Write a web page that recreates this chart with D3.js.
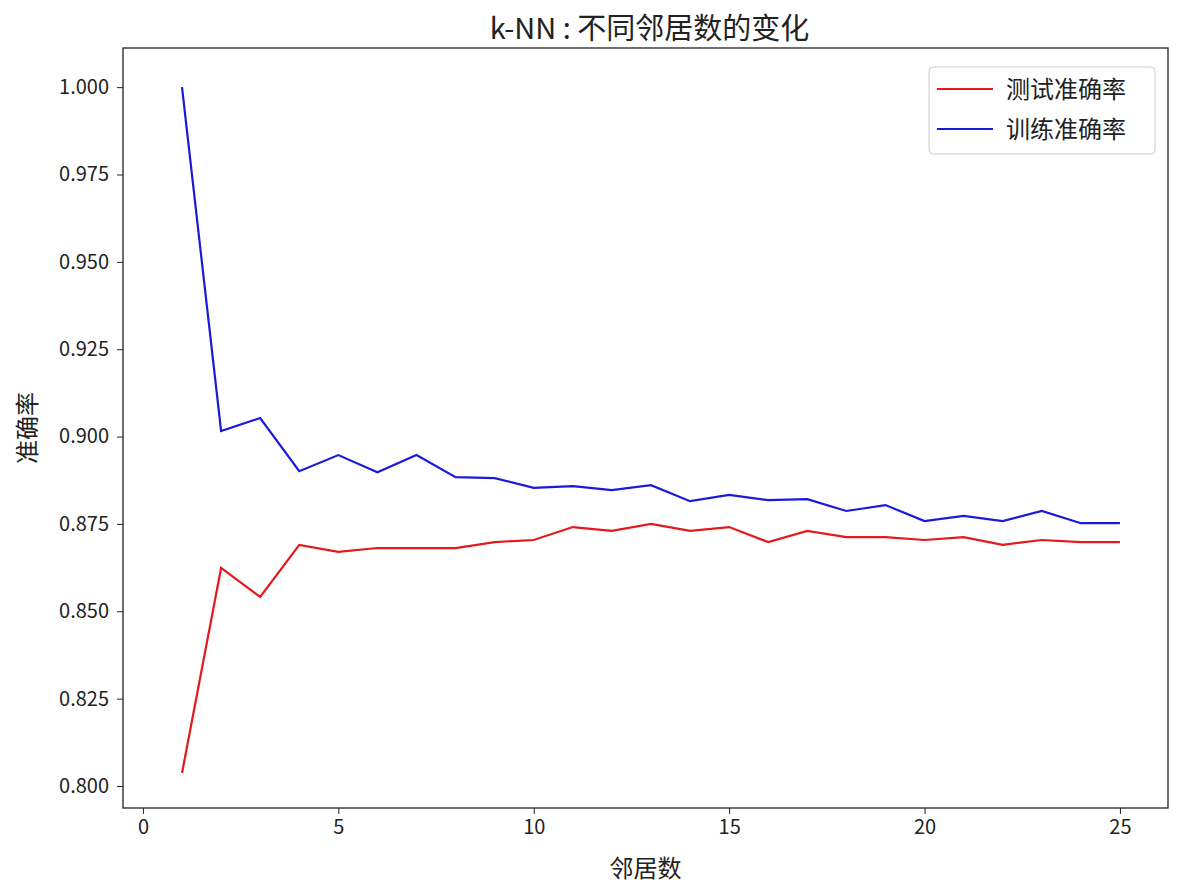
<!DOCTYPE html>
<html><head><meta charset="utf-8">
<script src="https://cdn.jsdelivr.net/npm/d3@7"></script>
<style>body{margin:0;background:#fff}text{font-family:"Noto Sans CJK SC","Noto Sans",sans-serif;fill:#222}</style>
</head><body><svg id="c" width="1181" height="896"></svg>
<script>
const neighbors = d3.range(1, 26);
const testAcc = [0.8037,0.8624,0.8541,0.8690,0.8670,0.8681,0.8681,0.8681,0.8698,0.8704,0.8741,0.8730,0.8750,0.8730,0.8741,0.8698,0.8730,0.8712,0.8712,0.8704,0.8712,0.8690,0.8704,0.8698,0.8698];
const trainAcc = [1.000,0.9016,0.9053,0.8901,0.8947,0.8898,0.8947,0.8884,0.8881,0.8853,0.8858,0.8847,0.8861,0.8815,0.8833,0.8818,0.8821,0.8787,0.8804,0.8758,0.8773,0.8758,0.8787,0.8752,0.8752];
const xTicks = [0,5,10,15,20,25];
const yTicks = [0.800,0.825,0.850,0.875,0.900,0.925,0.950,0.975,1.000];
const seriesNames = ["测试准确率","训练准确率"];
const colors = ["#e31a1c","#1a1adb"];

const svg = d3.select("#c");
const L=123,R=1168,T=48,B=808;
const x = d3.scaleLinear().domain([-0.51,26.23]).range([L,R]);
const y = d3.scaleLinear().domain([0.7937,1.0112]).range([B,T]);

svg.append("g").attr("transform",`translate(0,${B})`)
  .call(d3.axisBottom(x).tickValues(xTicks).tickSize(6).tickPadding(6))
  .call(g=>{g.select(".domain").remove();g.selectAll("text").attr("font-size",20);g.selectAll("line").attr("stroke","#222");});
svg.append("g").attr("transform",`translate(${L},0)`)
  .call(d3.axisLeft(y).tickValues(yTicks).tickFormat(d3.format(".3f")).tickSize(6).tickPadding(8))
  .call(g=>{g.select(".domain").remove();g.selectAll("text").attr("font-size",20);g.selectAll("line").attr("stroke","#222");});
svg.append("rect").attr("x",L).attr("y",T).attr("width",R-L).attr("height",B-T).attr("fill","none").attr("stroke","#222").attr("stroke-width",1.3);

const line = d3.line().x((d,i)=>x(neighbors[i])).y(d=>y(d));
[testAcc,trainAcc].forEach((s,k)=>svg.append("path").attr("d",line(s)).attr("fill","none").attr("stroke",colors[k]).attr("stroke-width",2.2));

svg.append("text").attr("x",(L+R)/2+4).attr("y",39).attr("text-anchor","middle").attr("font-size",29).text("k-NN : 不同邻居数的变化");
svg.append("text").attr("x",(L+R)/2).attr("y",877).attr("text-anchor","middle").attr("font-size",24).text("邻居数");
svg.append("text").attr("transform",`translate(36,${(T+B)/2}) rotate(-90)`).attr("text-anchor","middle").attr("font-size",24).text("准确率");

const lg = svg.append("g");
lg.append("rect").attr("x",929).attr("y",67).attr("width",226).attr("height",87).attr("rx",4).attr("fill","#fff").attr("stroke","#ccc");
seriesNames.forEach((n,k)=>{
  const yy = 89+k*40;
  lg.append("line").attr("x1",937).attr("x2",993).attr("y1",yy).attr("y2",yy).attr("stroke",colors[k]).attr("stroke-width",2.2);
  lg.append("text").attr("x",1006).attr("y",yy+9).attr("font-size",24).text(n);
});
</script></body></html>
